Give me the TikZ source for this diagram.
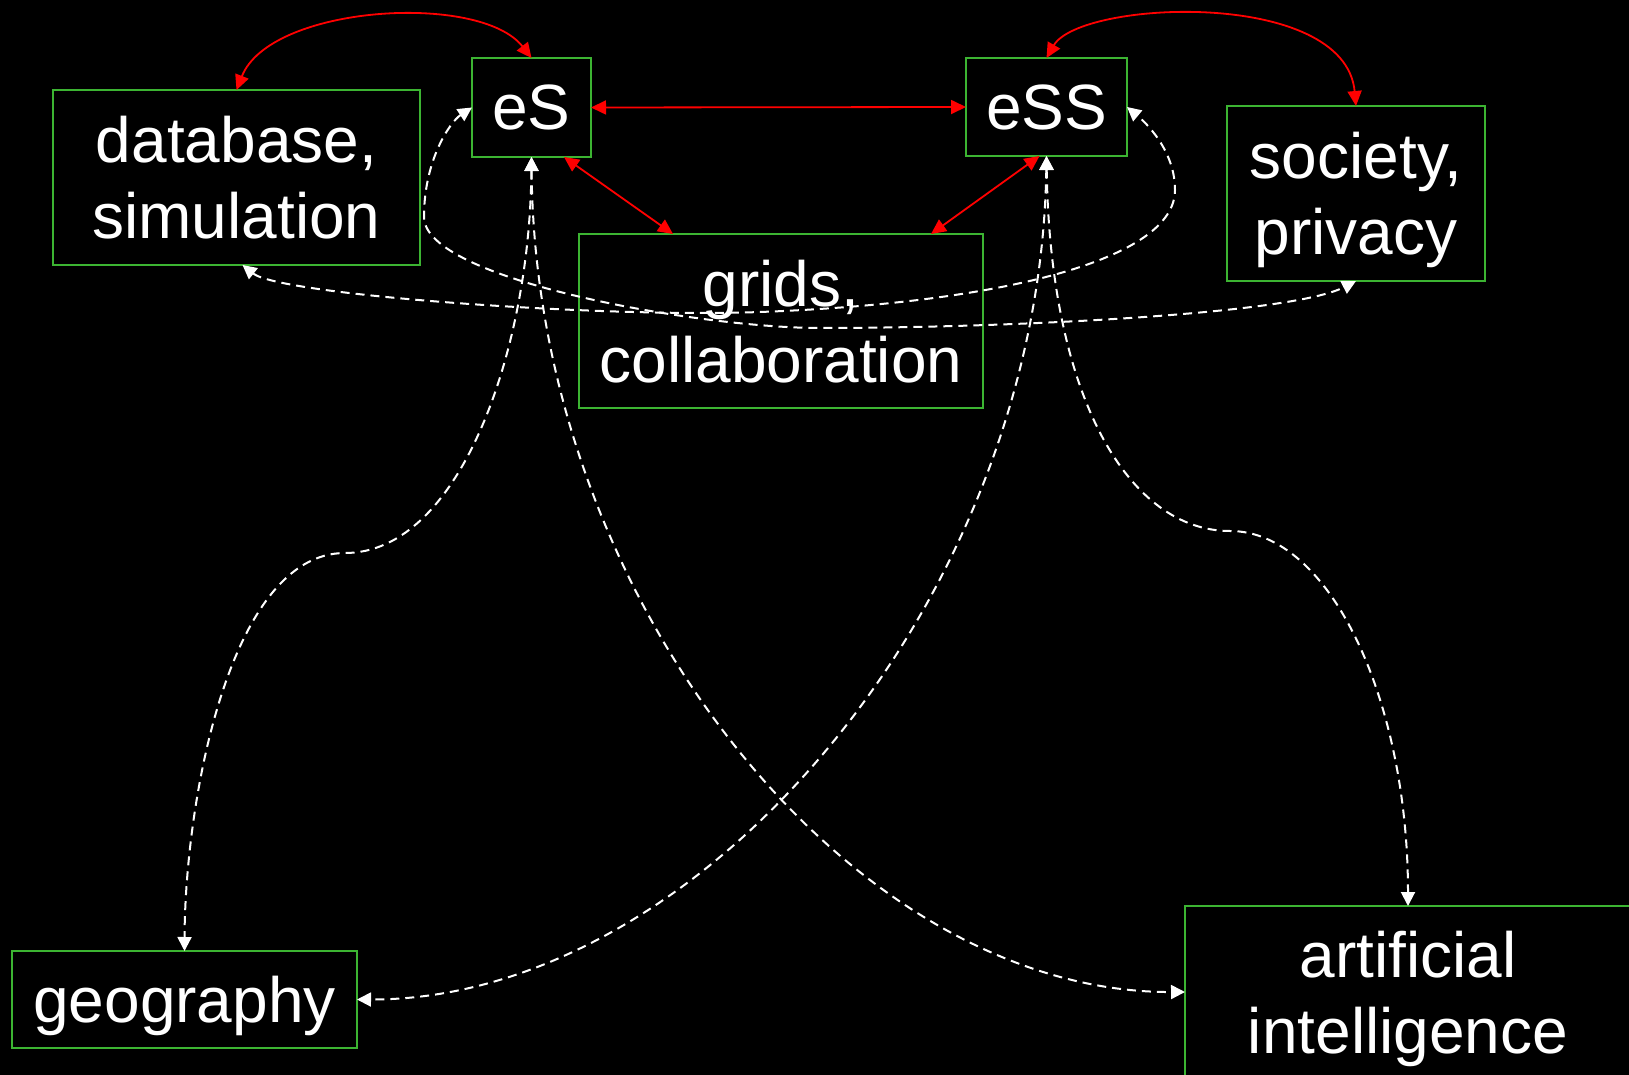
\documentclass[tikz,border=0pt]{standalone}
\usepackage{fontspec}
\setmainfont{Liberation Sans}
\usetikzlibrary{arrows.meta,calc}
\definecolor{boxgreen}{RGB}{60,180,50}
\begin{document}
\begin{tikzpicture}[x=0.5pt,y=-0.5pt,
  box/.style={draw=boxgreen, line width=1pt, fill=black, text=white, inner sep=0pt, outer sep=0pt,
    align=center, font=\fontsize{32}{38}\selectfont, text depth=0pt},
  redarrow/.style={draw=red, line width=0.9pt, {Triangle[length=7.5pt,width=7pt]}-{Triangle[length=7.5pt,width=7pt]}},
  dasharrow/.style={draw=white, line width=1pt, dash pattern=on 4.5pt off 3pt, {Triangle[length=7pt,width=7pt]}-{Triangle[length=7pt,width=7pt]}}]
\fill[black] (0,0) rectangle (1629,1075);
\useasboundingbox (0,0) rectangle (1629,1075);
\clip (0,0) rectangle (1629,1075);
% boxes
\node[box, minimum width=183.5pt, minimum height=87.5pt] (db) at (236.5,177.5) {database,\\simulation};
\node[box, minimum width=59.5pt, minimum height=49.5pt] (eS) at (531.5,107.5) {eS};
\node[box, minimum width=80.5pt, minimum height=49pt] (eSS) at (1046.5,107) {eSS};
\node[box, minimum width=129pt, minimum height=87.5pt] (soc) at (1356,193.5) {society,\\privacy};
\node[box, minimum width=202pt, minimum height=87pt] (grids) at (781,321) {grids,\\collaboration};
\node[box, minimum width=172.5pt, minimum height=48.5pt] (geo) at (184.5,999.5) {geography};
\node[box, minimum width=223pt, minimum height=86pt] (AI) at (1408,992) {artificial\\intelligence};
% red connectors
\draw[redarrow] (db.north) .. controls (270,5) and (480,-8) .. (eS.north);
\draw[redarrow] (eS.east) -- (eSS.west);
\draw[redarrow] ($(eS.south)+(32.5,0)$) -- ($(grids.north)+(-108,0)$);
\draw[redarrow] ($(eSS.south)+(-7,0)$) -- ($(grids.north)+(150,0)$);
\draw[redarrow] (eSS.north) .. controls (1080,0) and (1345,-12) .. (soc.north);
% white dashed connectors
\draw[dasharrow] (eS.west) .. controls (450,122) and (424,160) .. (424,217)
  .. controls (424,280) and (700,328) .. (820,328)
  .. controls (1000,328) and (1290,315) .. (soc.south);
\draw[dasharrow] ($(db.south)+(6,0)$) .. controls (280,295) and (600,318) .. (760,312)
  .. controls (1000,303) and (1175,260) .. (1175,190)
  .. controls (1175,150) and (1145,122) .. (eSS.east);
\draw[dasharrow] (eS.south) .. controls (530,350) and (460,553) .. (345,553)
  .. controls (230,553) and (185,800) .. (geo.north);
\draw[dasharrow] (eS.south) .. controls (535,600) and (850,993) .. (AI.west);
\draw[dasharrow] (eSS.south) .. controls (1040,600) and (700,1000) .. (geo.east);
\draw[dasharrow] (eSS.south) .. controls (1050,400) and (1130,531) .. (1230,531)
  .. controls (1330,531) and (1408,700) .. (AI.north);
\end{tikzpicture}
\end{document}
